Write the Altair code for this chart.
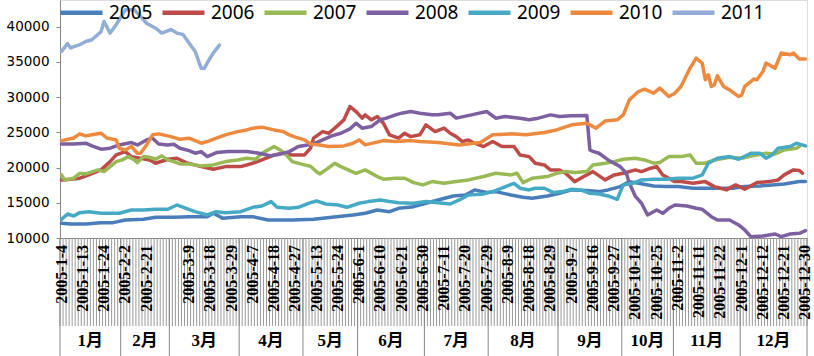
import altair as alt
import pandas as pd

series = ["2005", "2006", "2007", "2008", "2009", "2010", "2011"]
colors = ["#4A7EBB", "#BE4B48", "#98B954", "#7D60A0", "#46AAC5", "#EE8A3F", "#93AED6"]

# trading-day index (category position) and value
idx_2005 = [0,3,8,13,17,21,27,31,37,42,48,50,53,59,63,68,72,76,83,89,96,100,104,108,111,116,120,124,129,133,136,140,143,148,152,155,160,164,168,173,177,180,184,187,190,195,199,203,208,212,216,221,225,230,234,238,243,245]
val_2005 = [12090,11990,11990,12180,12180,12560,12650,12940,12940,13030,13030,13510,12820,13030,13030,12560,12560,12560,12650,12940,13270,13510,13980,13740,14220,14450,14930,15400,15970,16110,16830,16450,16590,16110,15780,15640,15970,16350,16830,16740,16590,16830,17300,18010,17770,17390,17300,17300,17070,17070,17070,17070,17300,17390,17540,17680,18010,18010]

idx_2006 = [0,3,6,9,13,16,18,21,23,26,29,31,35,38,41,46,50,54,59,63,66,70,73,76,80,82,83,86,88,90,93,95,97,99,100,102,104,106,108,111,113,115,118,120,123,126,128,130,132,134,136,139,142,145,149,151,154,156,159,161,164,166,169,172,175,179,182,185,189,191,194,196,198,202,204,208,212,215,219,222,225,229,233,236,238,241,243,244]
val_2006 = [18250,18350,18490,18960,19670,20850,21800,22270,21560,21330,21090,20620,21180,21330,20710,20140,19760,20140,20140,20620,21090,21800,22040,21800,21800,22750,24180,25110,24880,25600,26780,28670,27960,27020,27490,26780,27250,26300,24650,24180,24880,24400,24650,26070,25110,25600,24880,24400,23700,23930,23460,22990,23700,22990,22990,21800,21560,20620,20380,19670,19670,19190,18010,18730,19430,18250,18960,19190,19670,19430,19910,20140,18960,18010,18010,17770,18010,17300,16830,17540,16930,17870,18010,18250,18960,19670,19580,19190]

idx_2007 = [0,1,4,6,8,12,14,16,18,20,22,24,25,27,29,31,33,35,37,39,42,46,50,54,58,61,64,66,69,70,72,74,76,80,82,84,85,87,90,92,97,100,104,106,110,113,116,119,122,126,130,134,139,143,148,150,152,155,160,163,166,169,173,175,179,182,185,189,192,195,197,200,204,207,209,212,215,220,224,229,232,235,238,242,243]
val_2007 = [18960,18250,18490,19190,19100,19670,19430,20140,20850,21090,21560,21090,20710,21560,21470,21180,21660,21090,20850,20520,20520,20240,20380,20850,21090,21330,21180,22040,22750,22990,22510,21800,20850,20380,20200,19400,19100,19670,20620,20140,19190,19670,18730,18350,18490,18490,17870,17540,18010,17770,18010,18250,18730,19190,18960,19190,17870,18490,18730,19190,19430,19290,19430,20380,20620,20850,21180,21330,21090,20620,20710,21560,21560,21800,20620,20620,21090,21470,21330,21800,22040,21940,22510,22750,22990]

idx_2008 = [0,4,8,10,13,16,19,23,25,28,30,32,35,37,39,42,44,46,48,51,55,61,65,69,72,75,78,83,86,89,92,95,97,99,102,105,107,110,112,115,118,122,124,128,130,135,140,143,146,151,154,157,161,164,168,173,174,175,177,180,184,186,187,189,191,193,196,198,200,202,206,209,211,214,216,220,223,225,227,231,235,237,240,243,245]
val_2008 = [23360,23360,23460,23080,22610,22750,23220,23550,23220,23930,24180,23360,23220,23320,22750,22410,22040,22270,21560,22130,22270,22270,22040,21660,21940,22270,22990,23360,23930,24500,24880,25500,26300,25600,25830,26800,27020,27490,27730,27960,27730,27490,27490,27730,27020,27490,27960,27020,27250,27020,26780,27020,27490,27250,27350,27400,22500,22300,22040,21090,20140,19190,17800,15900,14930,13270,13980,13510,14220,14690,14550,14220,14080,13030,12560,12560,11850,11140,10190,10280,10570,10190,10570,10670,11040]

idx_2009 = [0,2,4,6,9,13,16,19,23,27,31,35,38,41,44,48,51,54,59,63,66,69,71,75,78,82,84,87,91,94,98,101,105,108,111,116,120,124,128,131,134,139,142,145,149,151,154,156,159,162,165,168,171,174,177,180,183,185,188,191,195,199,203,208,211,213,216,220,223,227,230,232,234,236,240,242,245]
val_2009 = [12650,13410,13130,13600,13740,13510,13510,13510,13980,13980,14080,14080,14690,14220,13740,13270,13740,13600,13740,14360,14550,15170,14360,14220,14360,15020,15260,14830,14690,14360,14930,15170,15400,15170,15020,14930,15170,15020,14830,15400,16110,16260,16590,17070,17770,17070,16830,17070,17070,16450,16590,16930,16830,16350,16260,15970,15500,17540,17770,18250,18350,18350,18490,18490,18960,20620,21330,21560,21180,22040,22040,21330,21800,22750,22990,23460,23080]

idx_2010 = [0,4,6,8,10,13,15,18,19,21,23,25,26,28,30,32,36,39,42,46,48,51,54,58,61,63,66,70,73,75,77,80,82,85,88,93,96,98,100,106,110,115,118,124,131,138,142,148,153,159,163,168,173,176,179,183,185,187,190,192,195,197,200,202,204,207,209,211,212,213,214,215,216,218,220,223,224,225,228,229,231,232,235,237,240,241,243,245]
val_2010 = [23830,24200,24790,24500,24650,24880,24200,23930,22750,22500,22990,22040,22040,23220,24650,24790,24400,24030,24180,23460,23700,24180,24650,25110,25350,25600,25740,25350,25110,24650,24320,23930,23360,23220,22990,23080,23460,23930,23220,23830,23700,23830,23700,23550,23220,23550,24650,24790,24650,24980,25350,26070,26300,25600,26600,26780,27490,29620,30800,31140,30570,31280,30090,30570,31520,34130,35550,34840,32470,33180,31520,31760,33040,31520,31040,30090,30330,31520,32570,32470,33650,34840,34130,36260,36020,36260,35410,35410]

idx_2011 = [0,2,3,6,8,10,13,14,16,18,19,21,24,26,28,31,33,36,38,40,42,44,46,47,49,50,52]
val_2011 = [36500,37600,37000,37450,37900,38150,39300,40750,39100,40300,41000,42400,42400,41500,40500,39800,39100,39600,39100,38900,37700,36500,34100,34100,35600,36300,37400]

date_labels = ["2005-1-4", "2005-1-13", "2005-1-24", "2005-2-2", "2005-2-21", "",
               "2005-3-9", "2005-3-18", "2005-3-29", "2005-4-7", "2005-4-18", "2005-4-27",
               "2005-5-13", "2005-5-24", "2005-6-1", "2005-6-10", "2005-6-21", "2005-6-30",
               "2005-7-11", "2005-7-20", "2005-7-29", "2005-8-9", "2005-8-18", "2005-8-29",
               "2005-9-7", "2005-9-16", "2005-9-27", "2005-10-14", "2005-10-25", "2005-11-2",
               "2005-11-11", "2005-11-22", "2005-12-1", "2005-12-12", "2005-12-21", "2005-12-30"]
month_names = ["1月", "2月", "3月", "4月", "5月", "6月", "7月", "8月", "9月", "10月", "11月", "12月"]
month_starts = [0, 20, 36, 59, 80, 98, 120, 141, 164, 185, 202, 224]
n_days = 246
y_ticks = [10000, 15000, 20000, 25000, 30000, 35000, 40000]

idx_lists = [idx_2005, idx_2006, idx_2007, idx_2008, idx_2009, idx_2010, idx_2011]
val_lists = [val_2005, val_2006, val_2007, val_2008, val_2009, val_2010, val_2011]

rows = []
for name, ids, vals in zip(series, idx_lists, val_lists):
    for i, v in zip(ids, vals):
        rows.append({"series": name, "day": i + 0.5, "value": v})
df = pd.DataFrame(rows)

W, H = 747, 238
AX = "#868686"
xscale = alt.Scale(domain=[0, n_days], nice=False, zero=False)
yscale = alt.Scale(domain=[10000, 43800], nice=False, zero=False)
xaxis = alt.Axis(labels=False, ticks=False, grid=False, title=None, domainColor=AX, domainWidth=1)
yaxis = alt.Axis(values=y_ticks, format="d", grid=False, title=None,
                 labelFont="DejaVu Sans", labelFontSize=13.5, labelColor="#000000",
                 tickColor=AX, tickSize=4, labelPadding=7, domainColor=AX, domainWidth=1)

color = alt.Color(
    "series:N",
    scale=alt.Scale(domain=series, range=colors),
    legend=alt.Legend(
        orient="none", legendX=-2, legendY=-11, direction="horizontal", title=None,
        symbolType="stroke", symbolSize=1764, symbolStrokeWidth=4.5,
        labelFont="Noto Sans", labelFontSize=19, labelColor="#000000",
        labelOffset=4, columnPadding=0, padding=0,
    ),
)

layers = []
for s in series:
    layers.append(
        alt.Chart(df[df.series == s]).mark_line(strokeWidth=3.5, strokeJoin="round", strokeCap="round").encode(
            x=alt.X("day:Q", scale=xscale, axis=xaxis),
            y=alt.Y("value:Q", scale=yscale, axis=yaxis),
            color=color,
        )
    )

hatch = alt.Chart(pd.DataFrame({"b": list(range(n_days + 1))})).mark_rule(
    color="#9a9a9a", strokeWidth=1
).encode(x=alt.X("b:Q", scale=xscale, axis=xaxis), y=alt.value(H), y2=alt.value(326))

seps = alt.Chart(pd.DataFrame({"b": month_starts + [n_days]})).mark_rule(
    color=AX, strokeWidth=1
).encode(x=alt.X("b:Q", scale=xscale, axis=xaxis), y=alt.value(H), y2=alt.value(356))

ends = month_starts[1:] + [n_days]
mdf = pd.DataFrame({"m": month_names, "mid": [(a + b) / 2 for a, b in zip(month_starts, ends)]})
mtext = alt.Chart(mdf).mark_text(
    font="Liberation Serif, Noto Sans CJK SC", fontSize=17, fontWeight="bold", baseline="middle", color="#000000"
).encode(x=alt.X("mid:Q", scale=xscale, axis=xaxis), y=alt.value(341), text="m:N")

ddf = pd.DataFrame({"lab": date_labels, "pos": [7 * k + 0.5 for k in range(len(date_labels))]})
dtext = alt.Chart(ddf).mark_text(
    font="Liberation Serif", fontSize=16, fontWeight="bold", angle=270, align="right",
    baseline="middle", color="#000000"
).encode(x=alt.X("pos:Q", scale=xscale, axis=xaxis), y=alt.value(245), text="lab:N")

chart = alt.layer(*layers, hatch, seps, dtext, mtext).properties(
    width=W, height=H,
    autosize=alt.AutoSizeParams(type="none"),
    padding={"left": 60, "top": 0, "right": 7, "bottom": 118},
).configure_view(stroke=None).configure(background="white")

chart.save("out.html", embed_options={"renderer": "svg", "actions": False})
